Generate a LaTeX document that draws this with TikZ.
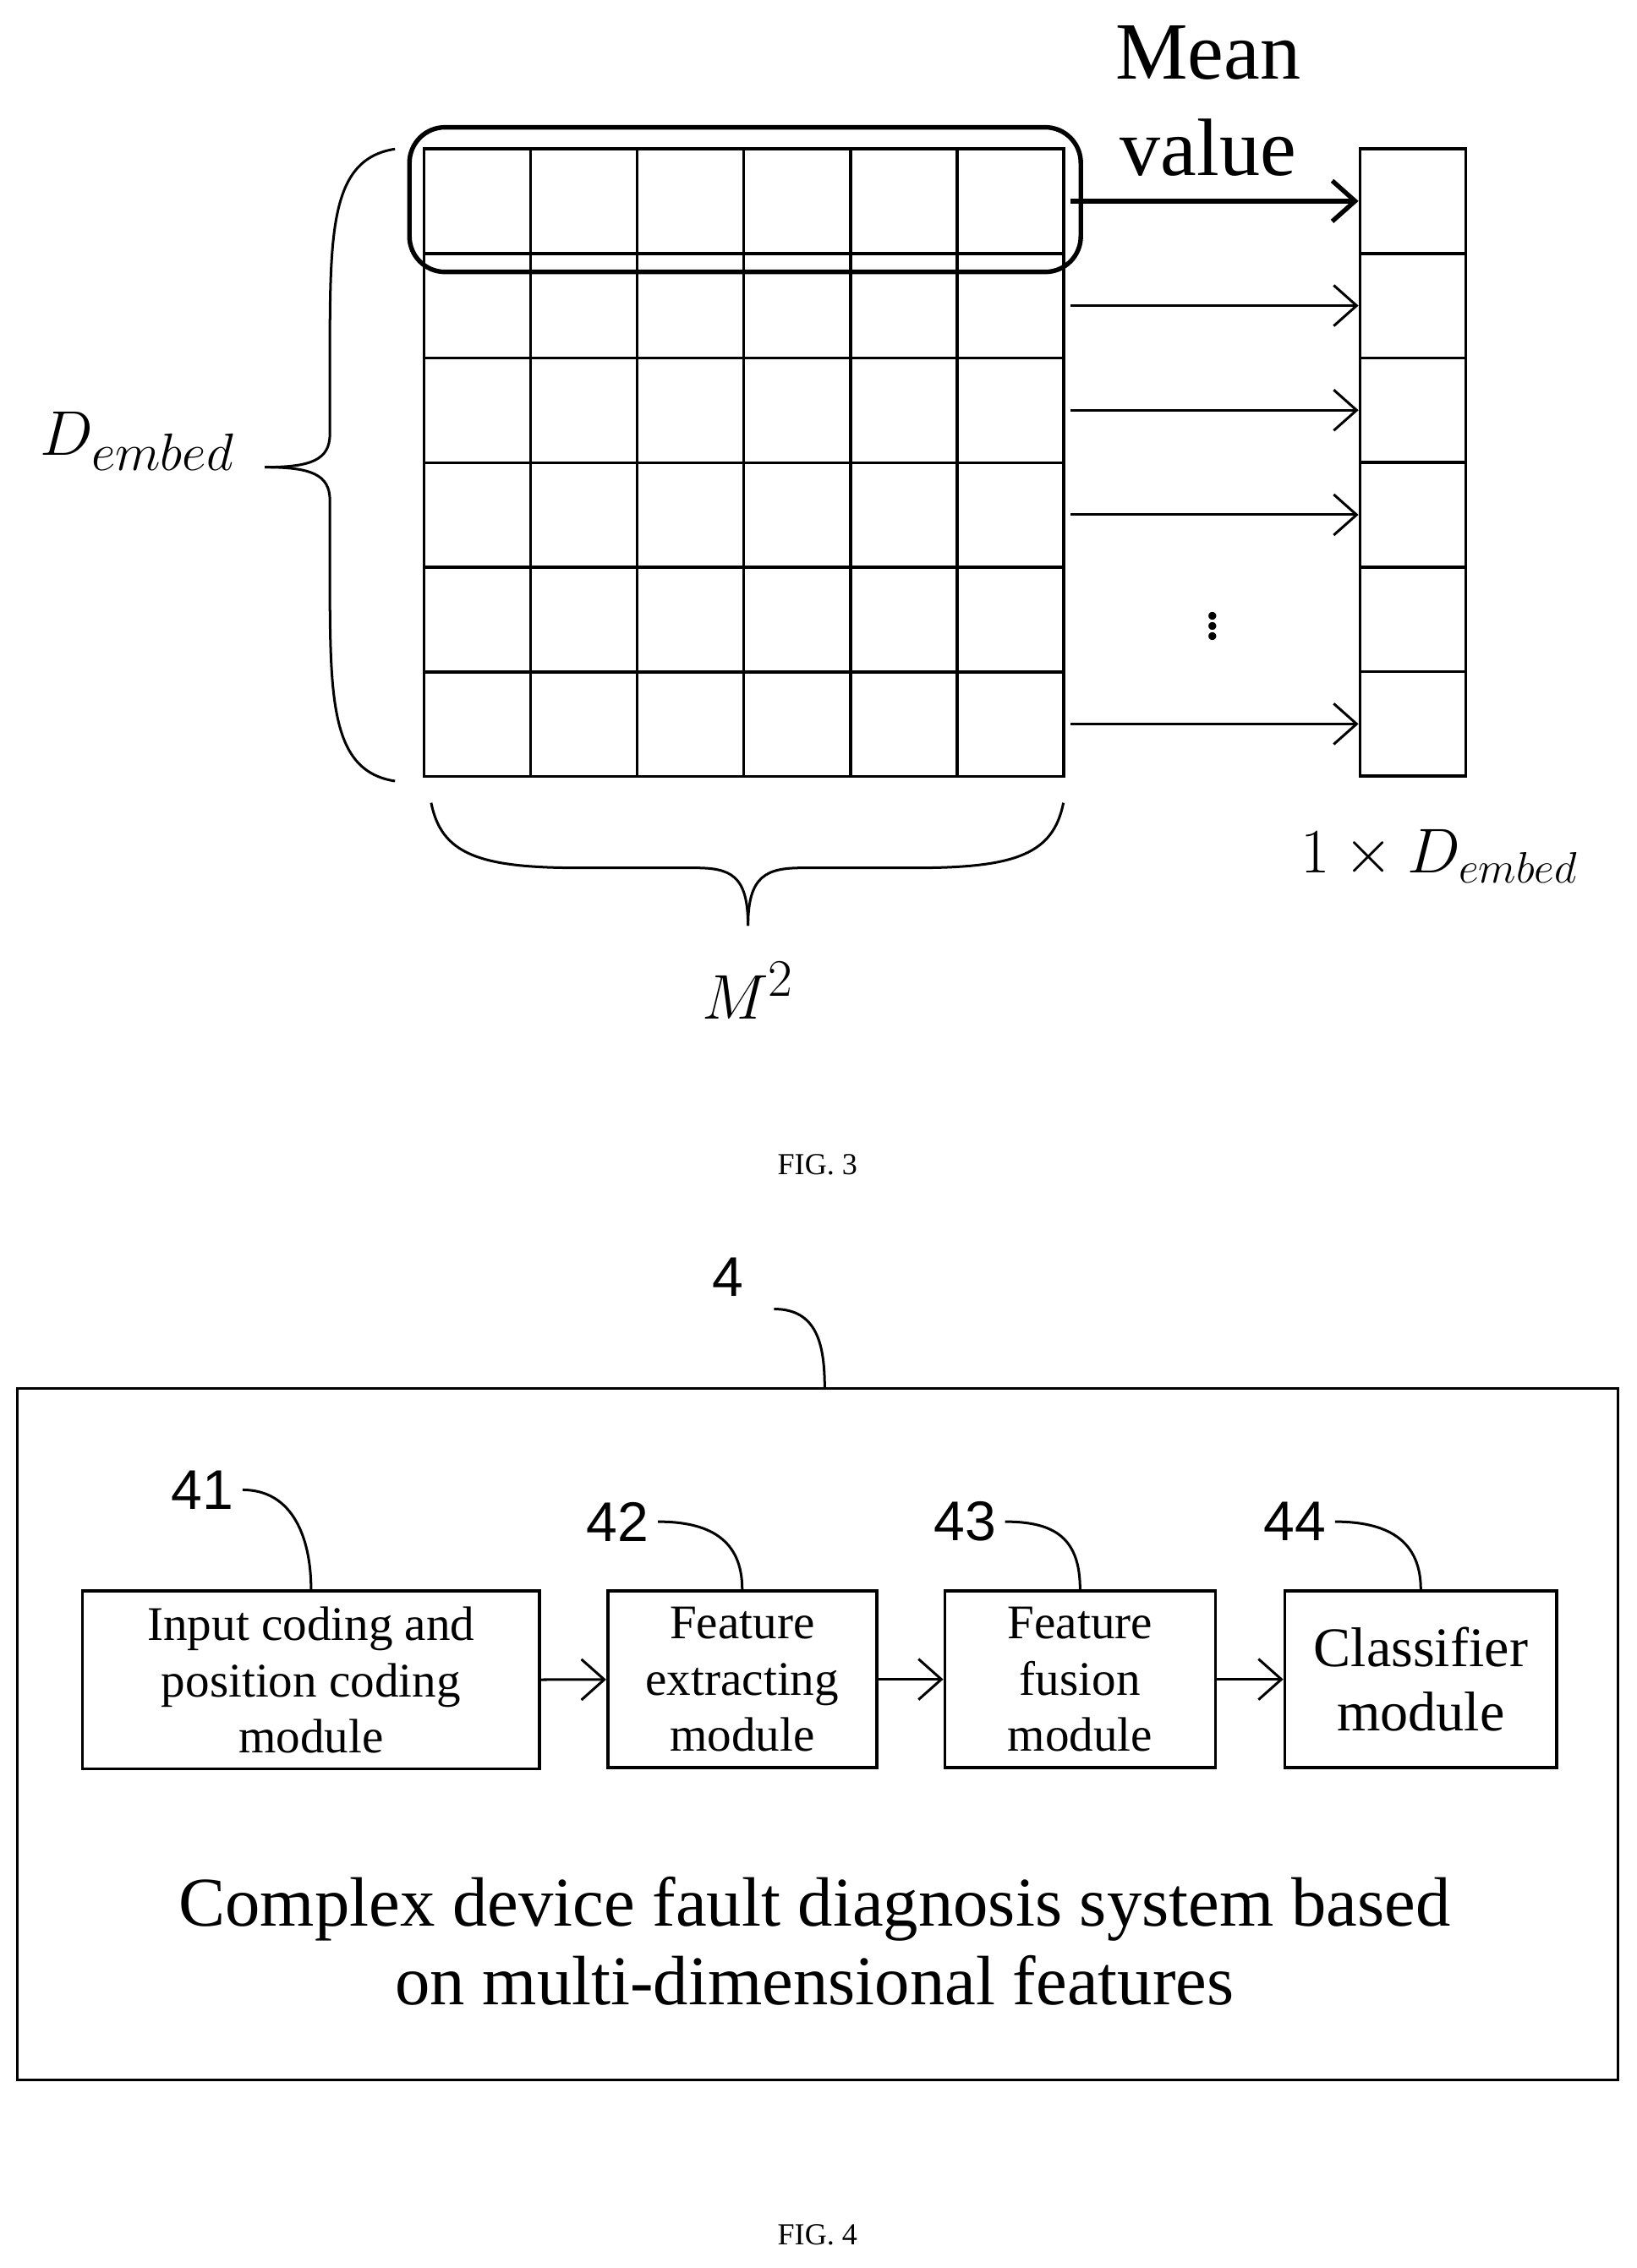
\documentclass[tikz,border=0pt]{standalone}
\usepackage{fontspec}
\setmainfont{Liberation Serif}
\newfontfamily\numfont{Liberation Sans}
\usetikzlibrary{positioning,arrows.meta}

\tikzset{
  cell/.style={draw, line width=1.2pt},
  mod/.style={draw, line width=1.2pt, align=center, font=\fontsize{19}{22}\selectfont, inner sep=2pt},
  flow/.style={-{Straight Barb[length=9pt,width=16pt]}, line width=1pt},
  leader/.style={line width=1pt},
  num/.style={font=\numfont\fontsize{22}{24}\selectfont},
  fig/.style={font=\fontsize{12}{14}\selectfont}
}

\begin{document}
\begin{tikzpicture}[x=0.02cm, y=-0.02cm]
\useasboundingbox (0,0) rectangle (1131,1568);
% FIG. 3 grid
\foreach \i in {0,...,5}{
  \foreach \j in {0,...,5}{
    \draw [cell] (293+73.7*\i,103+72.3*\j) rectangle ++(73.7,72.3);
  }
  \node [cell, minimum width=1.46cm, minimum height=1.446cm, inner sep=0] (out\i) at (976.5,139+72.3*\i) {};
}
\draw [line width=1.8pt, rounded corners=14pt] (283,88) rectangle (747,188);
\node [align=center, font=\fontsize{32}{38}\selectfont] (mean) at (835,70) {Mean\\value};
\coordinate (a0) at (740,139);
\draw [flow, line width=1.8pt] (a0) -- (out0.west);
\foreach \j in {1,2,3,5}{
  \coordinate (a\j) at (740,139+72.3*\j);
  \draw [flow] (a\j) -- (out\j.west);
}
\node [font=\fontsize{26}{28}\selectfont] (dots) at (838,428) {$\vdots$};
% braces
\draw [line width=1pt] (273,103) .. controls (228,110) and (228,160) .. (228,250)
  -- (228,300) .. controls (228,318) and (215,323) .. (183,323);
\draw [line width=1pt] (273,540) .. controls (228,533) and (228,483) .. (228,393)
  -- (228,346) .. controls (228,328) and (215,323) .. (183,323);
\node [font=\fontsize{28}{30}\selectfont] (dlabel) at (95,305) {$D_{embed}$};
\draw [line width=1pt] (298,555) .. controls (305,590) and (330,600) .. (400,600)
  -- (480,600) .. controls (505,600) and (517,605) .. (517,640);
\draw [line width=1pt] (735,555) .. controls (728,590) and (703,600) .. (633,600)
  -- (555,600) .. controls (530,600) and (517,605) .. (517,640);
\node [font=\fontsize{28}{30}\selectfont] (mlabel) at (517,685) {$M^2$};
\node [font=\fontsize{26}{28}\selectfont] (olabel) at (995,592) {$1\times D_{embed}$};
\node [fig] (fig3) at (565,805) {FIG. 3};
% FIG. 4
\draw [line width=1pt] (12,960) rectangle (1118,1438);
\node [num] (n4) at (503,883) {4};
\draw [leader] (535,905) .. controls (565,905) and (570,930) .. (570,960);
\node [mod, minimum width=6.32cm, minimum height=2.46cm] (m1) at (215,1161.5) {Input coding and\\position coding\\module};
\node [mod, minimum width=3.72cm, minimum height=2.44cm] (m2) at (513,1161) {Feature\\extracting\\module};
\node [mod, minimum width=3.74cm, minimum height=2.44cm] (m3) at (746.5,1161) {Feature\\fusion\\module};
\node [mod, minimum width=3.76cm, minimum height=2.44cm, font=\fontsize{22}{25}\selectfont] (m4) at (982,1161) {Classifier\\module};
\draw [flow] (m1) -- (m2);
\draw [flow] (m2) -- (m3);
\draw [flow] (m3) -- (m4);
\foreach \k/\x/\y/\m in {41/140/1030/m1, 42/427/1052/m2, 43/667/1052/m3, 44/895/1052/m4}{
  \node [num] (n\k) at (\x,\y) {\k};
  \draw [leader] (n\k.east) .. controls +(35,0) and +(0,-35) .. (\m.north);
}
\node [align=center, font=\fontsize{27.5}{31}\selectfont] (title) at (563,1342) {Complex device fault diagnosis system based\\on multi-dimensional features};
\node [fig] (fig4) at (565,1545) {FIG. 4};
\end{tikzpicture}
\end{document}
